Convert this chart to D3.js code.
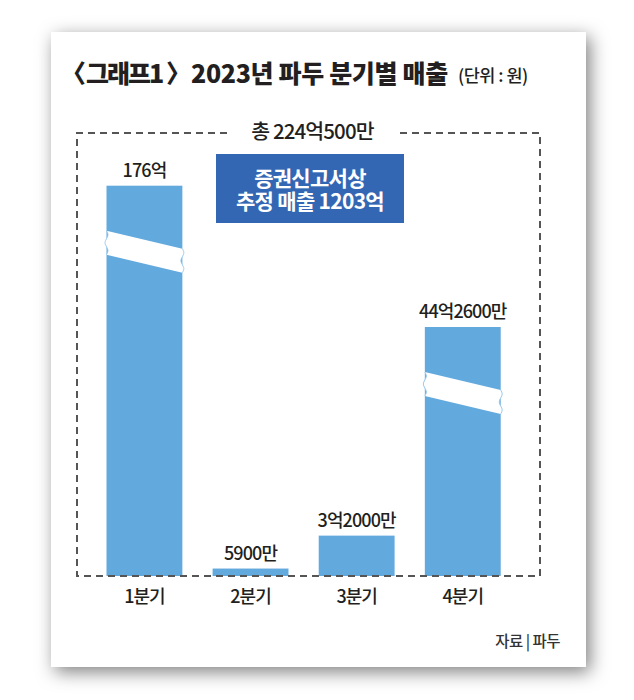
<!DOCTYPE html>
<html>
<head>
<meta charset="utf-8">
<script src="https://cdn.jsdelivr.net/npm/d3@7"></script>
<style>
  html, body { margin: 0; padding: 0; background: #fff; }
  svg { display: block; }
  text { font-family: "Noto Sans CJK KR", "Noto Sans", sans-serif; fill: #231f20; }
</style>
</head>
<body>
<svg id="chart" width="634" height="700"></svg>
<script>
// quarterly revenue of Fadu in 2023, unit: 만원
var quarters = ["1분기", "2분기", "3분기", "4분기"];
var revenue = [1760000, 5900, 32000, 442600];
var valueLabels = ["176억", "5900만", "3억2000만", "44억2600만"];
var broken = [true, false, false, true];

var titleParts = ["〈", "그래프1", "〉", "2023년 파두 분기별 매출"];
var unitText = "(단위 : 원)";
var totalText = "총 224억500만";
var noteLines = ["증권신고서상", "추정 매출 1203억"];
var sourceText = "자료 | 파두";

var barColor = "#62a9de",
    boxColor = "#3467b3",
    dashColor = "#555";

var svg = d3.select("#chart");

// drop shadow for the card
var defs = svg.append("defs");
defs.append("filter")
    .attr("id", "shadow")
    .attr("x", "-20%").attr("y", "-20%")
    .attr("width", "140%").attr("height", "140%")
  .append("feDropShadow")
    .attr("dx", 4).attr("dy", 5)
    .attr("stdDeviation", 9)
    .attr("flood-color", "#000")
    .attr("flood-opacity", 0.5);

svg.append("rect")
    .attr("x", 51).attr("y", 32)
    .attr("width", 535).attr("height", 635)
    .attr("fill", "#fff")
    .attr("filter", "url(#shadow)");

// title, pieces placed by hand so the wide brackets sit tight
var titleX = [61, 86, 166, 191],
    titleLs = [0, -2, 0, -0.35];
var t = svg.append("text")
    .attr("y", 83)
    .style("font-size", "25px")
    .style("font-weight", "900");
titleParts.forEach(function(p, i) {
    t.append("tspan")
        .attr("x", titleX[i])
        .style("letter-spacing", titleLs[i] + "px")
        .text(p);
});
svg.append("text")
    .attr("x", 458).attr("y", 82)
    .style("font-size", "17.5px")
    .style("font-weight", "500")
    .style("letter-spacing", "-0.5px")
    .text(unitText);

var frame = {left: 77, right: 540, top: 133, bottom: 576};

var x = d3.scaleBand()
    .domain(quarters)
    .range([106.5, 500.7])
    .paddingInner(0.285)
    .paddingOuter(0);

// broken axis: piecewise scale, the two tall bars are cut
var y = d3.scaleLinear()
    .domain([0, 60000, 442600, 1760000])
    .range([frame.bottom, 500.3, 327, 185.7]);

var data = quarters.map(function(q, i) {
    return {q: q, v: revenue[i], label: valueLabels[i], broken: broken[i]};
});

svg.selectAll(".bar")
    .data(data)
    .enter().append("rect")
    .attr("class", "bar")
    .attr("x", function(d) { return x(d.q); })
    .attr("width", x.bandwidth())
    .attr("y", function(d) { return y(d.v); })
    .attr("height", function(d) { return frame.bottom - y(d.v); })
    .attr("fill", barColor);

// white break bands with wavy edges
var breakOffset = 45, breakThick = 24, breakDrop = 18;
function wave(x0, y0, y1) {
    var pts = [], n = 12;
    for (var k = 0; k <= n; k++) {
        var yy = y0 + (y1 - y0) * k / n;
        pts.push([x0 + 1.6 * Math.sin(k / n * Math.PI * 3), yy]);
    }
    return pts;
}
data.filter(function(d) { return d.broken; }).forEach(function(d) {
    var x0 = x(d.q), x1 = x0 + x.bandwidth(),
        top = y(d.v) + breakOffset;
    var leftEdge = wave(x0, top, top + breakThick);
    var rightEdge = wave(x1, top + breakDrop + breakThick, top + breakDrop);
    svg.append("path")
        .attr("d", d3.line()(leftEdge.concat(rightEdge)) + "Z")
        .attr("fill", "#fff");
    [leftEdge, rightEdge].forEach(function(e) {
        svg.append("path")
            .attr("d", d3.line().curve(d3.curveBasis)(e))
            .attr("fill", "none")
            .attr("stroke", "#9ccbee")
            .attr("stroke-width", 1);
    });
});

// value labels
svg.selectAll(".val")
    .data(data)
    .enter().append("text")
    .attr("class", "val")
    .attr("x", function(d) { return x(d.q) + x.bandwidth() / 2; })
    .attr("y", function(d) { return y(d.v) - 9; })
    .attr("text-anchor", "middle")
    .style("font-size", "18px")
    .style("font-weight", "500")
    .style("letter-spacing", "-0.9px")
    .text(function(d) { return d.label; });

// dashed frame, open at the top for the total
svg.append("path")
    .attr("d", d3.line()([
        [227, frame.top], [frame.left, frame.top], [frame.left, frame.bottom],
        [frame.right, frame.bottom], [frame.right, frame.top], [398, frame.top]
    ]))
    .attr("fill", "none")
    .attr("stroke", dashColor)
    .attr("stroke-width", 2)
    .attr("stroke-dasharray", "7,5");

svg.append("text")
    .attr("x", (frame.left + frame.right) / 2 + 4)
    .attr("y", 139)
    .attr("text-anchor", "middle")
    .style("font-size", "20.5px")
    .style("font-weight", "500")
    .style("letter-spacing", "-0.9px")
    .text(totalText);

// note box
svg.append("rect")
    .attr("x", 216).attr("y", 154)
    .attr("width", 188).attr("height", 69)
    .attr("fill", boxColor);

svg.selectAll(".note")
    .data(noteLines)
    .enter().append("text")
    .attr("class", "note")
    .attr("x", 310)
    .attr("y", function(d, i) { return 186 + i * 23; })
    .attr("text-anchor", "middle")
    .style("fill", "#fff")
    .style("font-size", "21px")
    .style("font-weight", "700")
    .style("letter-spacing", "-0.7px")
    .text(function(d) { return d; });

// category axis
var axis = svg.append("g")
    .attr("transform", "translate(0," + frame.bottom + ")")
    .call(d3.axisBottom(x).tickSize(0).tickPadding(14));
axis.select(".domain").remove();
axis.selectAll("text")
    .style("font-family", '"Noto Sans CJK KR", sans-serif')
    .style("font-size", "18px")
    .style("font-weight", "500")
    .style("letter-spacing", "-1px")
    .style("fill", "#231f20");

svg.append("text")
    .attr("x", 560).attr("y", 647)
    .attr("text-anchor", "end")
    .style("font-size", "15.5px")
    .style("font-weight", "500")
    .style("letter-spacing", "-0.5px")
    .style("fill", "#333")
    .text(sourceText);
</script>
</body>
</html>
